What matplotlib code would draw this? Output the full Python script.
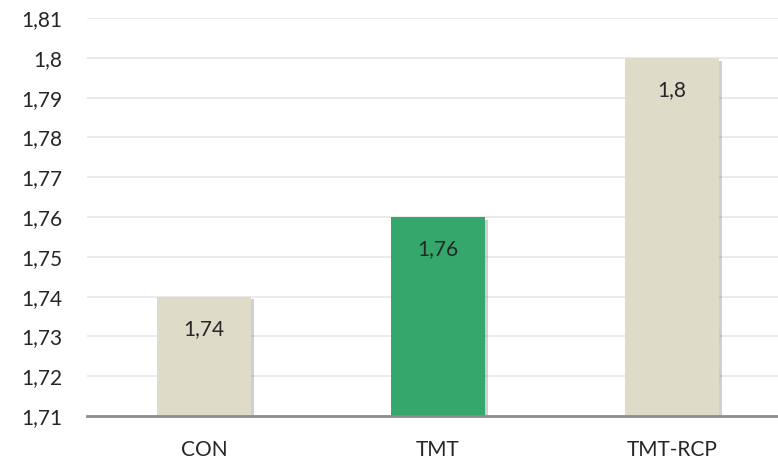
import matplotlib
matplotlib.use("Agg")
import matplotlib.pyplot as plt
import matplotlib.patheffects as pe

categories = ["CON", "TMT", "TMT-RCP"]
values = [1.74, 1.76, 1.80]
labels = ["1,74", "1,76", "1,8"]
colors = ["#DEDBC9", "#34A86C", "#DEDBC9"]
yticks = [1.71, 1.72, 1.73, 1.74, 1.75, 1.76, 1.77, 1.78, 1.79, 1.80, 1.81]
ytick_labels = ["1,71", "1,72", "1,73", "1,74", "1,75", "1,76", "1,77", "1,78", "1,79", "1,8", "1,81"]

plt.rcParams['font.family'] = ['Lato', 'DejaVu Sans']

fig = plt.figure(figsize=(7.78, 4.63), dpi=100)
W, H = 778, 463
ax = fig.add_axes([87 / W, (H - 416) / H, 1 - 87 / W, (416 - 18) / H])

x = list(range(len(categories)))
bars = ax.bar(x, [v - 1.71 for v in values], bottom=1.71, width=0.40, color=colors, zorder=3,
              path_effects=[pe.SimplePatchShadow(offset=(2.5, -2), alpha=0.3, shadow_rgbFace='#666666'), pe.Normal()])

for xi, v, lab in zip(x, values, labels):
    ax.annotate(lab, (xi, v), xytext=(0, -32), textcoords='offset pixels',
                ha='center', va='center', fontsize=15, color='#262626', zorder=4)

ax.set_ylim(1.71, 1.81)
ax.set_xlim(-0.5, -0.5 + 691 / 234)
ax.set_yticks(yticks)
ax.set_yticklabels(ytick_labels)
ax.set_xticks(x)
ax.set_xticklabels(categories)
ax.tick_params(axis='both', length=0, labelsize=15, colors='#262626')
ax.tick_params(axis='y', pad=18)
ax.tick_params(axis='x', pad=17)
ax.yaxis.grid(True, color='#E8E8E8', linewidth=1.2, zorder=0)
ax.set_axisbelow(True)
for s in ['top', 'right', 'left']:
    ax.spines[s].set_visible(False)
ax.spines['bottom'].set_color('#8C8C8C')
ax.spines['bottom'].set_linewidth(2)
ax.spines['bottom'].set_zorder(5)

fig.savefig("out.png", dpi=100)
